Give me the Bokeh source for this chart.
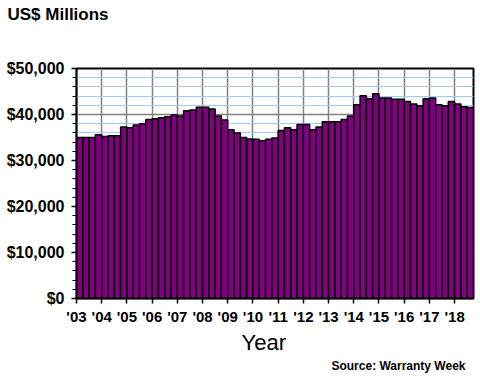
from bokeh.plotting import figure
from bokeh.layouts import column
from bokeh.models import (Range1d, FixedTicker, SingleIntervalTicker, Title,
                          ColumnDataSource)
from bokeh.embed import file_html
from bokeh.resources import INLINE

# Quarterly values, US$ millions, 2003 Q1 .. 2018 Q3
claims = [
    35000, 35000, 35000, 35600,   # 2003
    35200, 35400, 35400, 37300,   # 2004
    37100, 37700, 38000, 38900,   # 2005
    39100, 39300, 39500, 39900,   # 2006
    39700, 40800, 41000, 41600,   # 2007
    41600, 41200, 39700, 38800,   # 2008
    36700, 36000, 35000, 34700,   # 2009
    34600, 34300, 34600, 34900,   # 2010
    36500, 37100, 36700, 37800,   # 2011
    37800, 36700, 37300, 38400,   # 2012
    38400, 38400, 38900, 39700,   # 2013
    42100, 44100, 43400, 44500,   # 2014
    43600, 43600, 43300, 43300,   # 2015
    42800, 42300, 41900, 43400,   # 2016
    43600, 42100, 41900, 42800,   # 2017
    42300, 41700, 41500,          # 2018
]
year_labels = ["'03", "'04", "'05", "'06", "'07", "'08", "'09", "'10",
               "'11", "'12", "'13", "'14", "'15", "'16", "'17", "'18"]
y_ticks = [0, 10000, 20000, 30000, 40000, 50000]
y_tick_labels = ["$0", "$10,000", "$20,000", "$30,000", "$40,000", "$50,000"]

FONT = "Liberation Sans"
Y_MAX = 50000
W = 475
HEADER_H = 30

n = len(claims)
src = ColumnDataSource(dict(x=[i + 0.5 for i in range(n)], top=claims))

# Heading strip: a 1px-high empty frame at the top, heading placed below it
header = figure(width=W, height=HEADER_H, output_backend="svg", toolbar_location=None,
                x_range=Range1d(0, 1), y_range=Range1d(0, 1),
                x_axis_type=None, y_axis_type=None,
                min_border_left=76, min_border_right=2, min_border_top=0,
                min_border_bottom=HEADER_H - 1)
header.outline_line_color = None
header.background_fill_color = "white"
header.border_fill_color = "white"
header.xgrid.visible = False
header.ygrid.visible = False
header.add_layout(Title(text="US$ Millions", align="left", offset=-69, standoff=6,
                        vertical_align="top", text_font=FONT, text_font_style="bold",
                        text_font_size="17px", text_color="black"), "below")

# Main chart
p = figure(width=W, height=376 - HEADER_H, output_backend="svg", toolbar_location=None,
           x_range=Range1d(0, n), y_range=Range1d(0, Y_MAX),
           min_border_left=76, min_border_right=2, min_border_top=68 - HEADER_H,
           min_border_bottom=78)
p.background_fill_color = "white"
p.border_fill_color = "white"
p.outline_line_color = "black"
p.outline_line_width = 2

p.vbar(x="x", top="top", width=1, bottom=0, source=src,
       fill_color="#800080", line_color="black", line_width=1.5)

yt = SingleIntervalTicker(interval=10000, num_minor_ticks=5)
p.yaxis.ticker = yt
p.yaxis.major_label_overrides = {t: l for t, l in zip(y_ticks, y_tick_labels)}
p.yaxis.major_tick_out = 5
p.yaxis.major_tick_in = 0
p.yaxis.minor_tick_out = 4
p.yaxis.minor_tick_in = 0
p.yaxis.major_label_standoff = 7
p.yaxis.major_label_text_font = FONT
p.yaxis.major_label_text_font_style = "bold"
p.yaxis.major_label_text_font_size = "16px"
p.yaxis.major_label_text_color = "black"
p.yaxis.axis_line_color = "black"
p.yaxis.axis_line_width = 1.5
p.yaxis.major_tick_line_width = 1.5
p.ygrid.ticker = yt
p.ygrid.grid_line_color = "#808080"
p.ygrid.grid_line_width = 1.5
p.ygrid.minor_grid_line_color = "#99ccff"
p.ygrid.minor_grid_line_width = 1

xt = FixedTicker(ticks=[4 * i for i in range(len(year_labels))])
p.xaxis.ticker = xt
p.xaxis.major_label_overrides = {4 * i: l for i, l in enumerate(year_labels)}
p.xaxis.major_tick_out = 5
p.xaxis.major_tick_in = 0
p.xaxis.minor_tick_line_color = None
p.xaxis.major_label_standoff = 4
p.xaxis.major_label_text_font = FONT
p.xaxis.major_label_text_font_style = "bold"
p.xaxis.major_label_text_font_size = "15px"
p.xaxis.major_label_text_color = "black"
p.xaxis.axis_line_color = "black"
p.xaxis.axis_line_width = 1.5
p.xaxis.major_tick_line_width = 1.5
p.xgrid.ticker = xt
p.xgrid.grid_line_color = "#808080"
p.xgrid.grid_line_width = 1.5

p.add_layout(Title(text="Year", align="left", offset=165, standoff=0,
                   text_font=FONT, text_font_style="normal", text_font_size="22px",
                   text_color="black"), "below")
p.add_layout(Title(text="Source: Warranty Week", align="right", offset=8, standoff=5,
                   text_font=FONT, text_font_style="bold", text_font_size="12px",
                   text_color="black"), "below")

layout = column(header, p, spacing=0)
open("out.html", "w").write(file_html(layout, INLINE))
